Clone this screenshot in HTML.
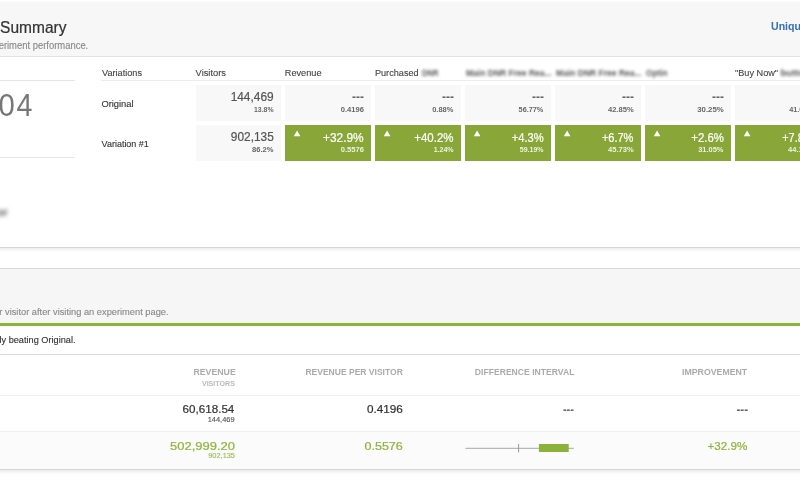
<!DOCTYPE html>
<html><head><meta charset="utf-8">
<title>Results Summary</title>
<style>
*{margin:0;padding:0;box-sizing:border-box}
html,body{width:800px;height:480px;overflow:hidden;background:#fff;font-family:"Liberation Sans",Arial,sans-serif;color:#333}
.a{position:absolute}
#h1{left:-10px;top:1px;width:820px;height:56px;background:#f7f7f7;border-top:1px solid #fbfbfb;border-bottom:1px solid #e3e3e3}
#c1b{left:-10px;top:57px;width:820px;height:191px;background:#fff;border-bottom:1px solid #d6d6d6;box-shadow:0 2px 3px rgba(0,0,0,.07)}
.hl{position:absolute;height:1px;background:#e6e6e6}
.gc{position:absolute;width:86px;height:36px;background:#f8f8f8}
.gn{position:absolute;width:86px;height:36px;background:#88a738}
#h2{left:-10px;top:268px;width:820px;height:55px;background:#f6f6f6;border-top:1px solid #d8d8d8}
#gl{left:-10px;top:323px;width:820px;height:3px;background:#8cb33c}
#c2b{left:-10px;top:326px;width:820px;height:144px;background:#fff;border-bottom:1px solid #d6d6d3;box-shadow:0 2px 4px rgba(0,0,0,.09)}
#wrap{position:absolute;left:0;top:0;width:800px;height:480px}
svg.tx{position:absolute;left:0;top:0;font-family:"Liberation Sans",Arial,sans-serif}
</style></head><body><div id="wrap">
<div class="a" id="h1"></div>
<div class="a" id="c1b"></div>
<div class="hl" style="left:-10px;top:80px;width:85px"></div>
<div class="hl" style="left:-10px;top:157px;width:85px"></div>
<div class="hl" style="left:101px;top:80px;width:700px;background:#ededed"></div>

<div class="gc" style="left:196px;top:85px;width:85px"></div>
<div class="gc" style="left:196px;top:125px;width:85px"></div>
<div class="gc" style="left:285px;top:85px"></div>
<div class="gc" style="left:375px;top:85px"></div>
<div class="gc" style="left:465px;top:85px"></div>
<div class="gc" style="left:555px;top:85px"></div>
<div class="gc" style="left:645px;top:85px"></div>
<div class="gc" style="left:735px;top:85px"></div>
<div class="gn" style="left:285px;top:125px"></div>
<div class="gn" style="left:375px;top:125px"></div>
<div class="gn" style="left:465px;top:125px"></div>
<div class="gn" style="left:555px;top:125px"></div>
<div class="gn" style="left:645px;top:125px"></div>
<div class="gn" style="left:735px;top:125px"></div>

<div class="a" id="h2"></div>
<div class="a" id="gl"></div>
<div class="a" id="c2b"></div>
<div class="hl" style="left:-10px;top:354px;width:820px;background:#dcdcdc"></div>
<div class="hl" style="left:-10px;top:395px;width:820px;background:#eeeeee"></div>
<div class="hl" style="left:-10px;top:431px;width:820px;background:#f0f0f0"></div>
<div class="a" style="left:-10px;top:432px;width:820px;height:37px;background:#fbfbfb"></div>

<svg class="tx" width="800" height="480" viewBox="0 0 800 480">
<g fill="#fff">
<polygon points="293.8,136.2 297.1,130.4 300.4,136.2"/>
<polygon points="383.8,136.2 387.1,130.4 390.4,136.2"/>
<polygon points="473.8,136.2 477.1,130.4 480.4,136.2"/>
<polygon points="563.8,136.2 567.1,130.4 570.4,136.2"/>
<polygon points="653.8,136.2 657.1,130.4 660.4,136.2"/>
<polygon points="743.8,136.2 747.1,130.4 750.4,136.2"/>
</g>
<line x1="465.4" y1="448.3" x2="573.8" y2="448.3" stroke="#a8a8a8" stroke-width="1"/>
<line x1="518.6" y1="444" x2="518.6" y2="452.4" stroke="#999" stroke-width="1"/>
<rect x="538.9" y="444" width="29.8" height="8" fill="#8bb23a"/>
<text x="0.11" y="32.60" font-size="15.6" font-weight="400" fill="#333" text-anchor="start" textLength="66.33" lengthAdjust="spacingAndGlyphs" stroke="#333" stroke-width="0.22">Summary</text>
<text x="88.24" y="48.80" font-size="10" font-weight="400" fill="#888" text-anchor="end" textLength="89.61" lengthAdjust="spacingAndGlyphs" stroke="#888" stroke-width="0.12">eriment performance.</text>
<text x="771.00" y="29.60" font-size="10.6" font-weight="700" fill="#3470b8" text-anchor="start">Unique Conversions</text>
<text x="14.81" y="115.60" font-size="32" font-weight="400" fill="#777" text-anchor="end" textLength="16.29" lengthAdjust="spacingAndGlyphs">0</text>
<text x="32.43" y="115.60" font-size="32" font-weight="400" fill="#777" text-anchor="end" textLength="15.91" lengthAdjust="spacingAndGlyphs">4</text>
<text x="8.00" y="216.00" font-size="11" font-weight="700" fill="#555" text-anchor="end" textLength="12.58" lengthAdjust="spacingAndGlyphs" style="filter:blur(1.9px)">or</text>
<text x="102.00" y="75.90" font-size="9.6" font-weight="400" fill="#444" text-anchor="start" textLength="39.99" lengthAdjust="spacingAndGlyphs" stroke="#444" stroke-width="0.12">Variations</text>
<text x="195.58" y="75.90" font-size="9.6" font-weight="400" fill="#444" text-anchor="start" textLength="30.42" lengthAdjust="spacingAndGlyphs" stroke="#444" stroke-width="0.12">Visitors</text>
<text x="284.79" y="75.90" font-size="9.6" font-weight="400" fill="#444" text-anchor="start" textLength="36.74" lengthAdjust="spacingAndGlyphs" stroke="#444" stroke-width="0.12">Revenue</text>
<text x="374.92" y="75.90" font-size="9.6" font-weight="400" fill="#444" text-anchor="start" textLength="43.75" lengthAdjust="spacingAndGlyphs" stroke="#444" stroke-width="0.12">Purchased</text>
<text x="422.00" y="75.90" font-size="9.6" font-weight="700" fill="#555" text-anchor="start" textLength="16.54" lengthAdjust="spacingAndGlyphs" style="filter:blur(1.4px)">DNR</text>
<text x="466.00" y="75.90" font-size="9.6" font-weight="700" fill="#555" text-anchor="start" textLength="85.61" lengthAdjust="spacingAndGlyphs" style="filter:blur(1.4px)">Main DNR Free Rea...</text>
<text x="556.10" y="75.90" font-size="9.6" font-weight="700" fill="#555" text-anchor="start" textLength="85.47" lengthAdjust="spacingAndGlyphs" style="filter:blur(1.4px)">Main DNR Free Rea...</text>
<text x="646.00" y="75.90" font-size="9.6" font-weight="700" fill="#555" text-anchor="start" textLength="21.45" lengthAdjust="spacingAndGlyphs" style="filter:blur(1.4px)">Optin</text>
<text x="735.00" y="75.90" font-size="9.6" font-weight="400" fill="#444" text-anchor="start" textLength="43.10" lengthAdjust="spacingAndGlyphs" stroke="#444" stroke-width="0.12">&quot;Buy Now&quot;</text>
<text x="780.47" y="75.90" font-size="9.6" font-weight="700" fill="#555" text-anchor="start" textLength="30.04" lengthAdjust="spacingAndGlyphs" style="filter:blur(1.4px)">button</text>
<text x="101.40" y="106.80" font-size="9.2" font-weight="400" fill="#333" text-anchor="start" textLength="32.22" lengthAdjust="spacingAndGlyphs" stroke="#333" stroke-width="0.12">Original</text>
<text x="101.60" y="147.00" font-size="9.2" font-weight="400" fill="#333" text-anchor="start" textLength="47.25" lengthAdjust="spacingAndGlyphs" stroke="#333" stroke-width="0.12">Variation #1</text>
<text x="273.62" y="101.20" font-size="12.6" font-weight="400" fill="#555" text-anchor="end" textLength="42.99" lengthAdjust="spacingAndGlyphs" stroke="#555" stroke-width="0.22">144,469</text>
<text x="273.54" y="111.70" font-size="6.9" font-weight="700" fill="#666" text-anchor="end" textLength="19.56" lengthAdjust="spacingAndGlyphs">13.8%</text>
<text x="273.74" y="141.20" font-size="12.6" font-weight="400" fill="#555" text-anchor="end" textLength="42.87" lengthAdjust="spacingAndGlyphs" stroke="#555" stroke-width="0.22">902,135</text>
<text x="273.48" y="151.60" font-size="6.9" font-weight="700" fill="#666" text-anchor="end" textLength="21.54" lengthAdjust="spacingAndGlyphs">86.2%</text>
<text x="363.87" y="101.20" font-size="12" font-weight="700" fill="#666" text-anchor="end" textLength="11.88" lengthAdjust="spacingAndGlyphs">---</text>
<text x="363.91" y="111.80" font-size="6.9" font-weight="700" fill="#666" text-anchor="end" textLength="23.21" lengthAdjust="spacingAndGlyphs">0.4196</text>
<text x="363.68" y="141.50" font-size="12" font-weight="400" fill="#fff" text-anchor="end" textLength="40.64" lengthAdjust="spacingAndGlyphs" stroke="#fff" stroke-width="0.22">+32.9%</text>
<text x="363.91" y="152.30" font-size="6.9" font-weight="700" fill="#edf3e2" text-anchor="end" textLength="23.21" lengthAdjust="spacingAndGlyphs">0.5576</text>
<text x="453.87" y="101.20" font-size="12" font-weight="700" fill="#666" text-anchor="end" textLength="11.88" lengthAdjust="spacingAndGlyphs">---</text>
<text x="453.32" y="111.80" font-size="6.9" font-weight="700" fill="#666" text-anchor="end" textLength="21.13" lengthAdjust="spacingAndGlyphs">0.88%</text>
<text x="453.45" y="141.50" font-size="12" font-weight="400" fill="#fff" text-anchor="end" textLength="39.16" lengthAdjust="spacingAndGlyphs" stroke="#fff" stroke-width="0.22">+40.2%</text>
<text x="453.64" y="152.30" font-size="6.9" font-weight="700" fill="#edf3e2" text-anchor="end" textLength="19.94" lengthAdjust="spacingAndGlyphs">1.24%</text>
<text x="543.87" y="101.20" font-size="12" font-weight="700" fill="#666" text-anchor="end" textLength="11.88" lengthAdjust="spacingAndGlyphs">---</text>
<text x="543.34" y="111.80" font-size="6.9" font-weight="700" fill="#666" text-anchor="end" textLength="24.76" lengthAdjust="spacingAndGlyphs">56.77%</text>
<text x="543.77" y="141.50" font-size="12" font-weight="400" fill="#fff" text-anchor="end" textLength="32.04" lengthAdjust="spacingAndGlyphs" stroke="#fff" stroke-width="0.22">+4.3%</text>
<text x="543.61" y="152.30" font-size="6.9" font-weight="700" fill="#edf3e2" text-anchor="end" textLength="23.86" lengthAdjust="spacingAndGlyphs">59.19%</text>
<text x="633.87" y="101.20" font-size="12" font-weight="700" fill="#666" text-anchor="end" textLength="11.88" lengthAdjust="spacingAndGlyphs">---</text>
<text x="633.68" y="111.80" font-size="6.9" font-weight="700" fill="#666" text-anchor="end" textLength="25.77" lengthAdjust="spacingAndGlyphs">42.85%</text>
<text x="633.42" y="141.50" font-size="12" font-weight="400" fill="#fff" text-anchor="end" textLength="31.53" lengthAdjust="spacingAndGlyphs" stroke="#fff" stroke-width="0.22">+6.7%</text>
<text x="633.65" y="152.30" font-size="6.9" font-weight="700" fill="#edf3e2" text-anchor="end" textLength="25.66" lengthAdjust="spacingAndGlyphs">45.73%</text>
<text x="723.87" y="101.20" font-size="12" font-weight="700" fill="#666" text-anchor="end" textLength="11.88" lengthAdjust="spacingAndGlyphs">---</text>
<text x="723.74" y="111.80" font-size="6.9" font-weight="700" fill="#666" text-anchor="end" textLength="26.53" lengthAdjust="spacingAndGlyphs">30.25%</text>
<text x="723.87" y="141.50" font-size="12" font-weight="400" fill="#fff" text-anchor="end" textLength="32.51" lengthAdjust="spacingAndGlyphs" stroke="#fff" stroke-width="0.22">+2.6%</text>
<text x="723.33" y="152.30" font-size="6.9" font-weight="700" fill="#edf3e2" text-anchor="end" textLength="25.08" lengthAdjust="spacingAndGlyphs">31.05%</text>
<text x="813.87" y="101.20" font-size="12" font-weight="700" fill="#666" text-anchor="end" textLength="11.88" lengthAdjust="spacingAndGlyphs">---</text>
<text x="813.84" y="111.80" font-size="6.9" font-weight="700" fill="#666" text-anchor="end" textLength="24.67" lengthAdjust="spacingAndGlyphs">41.06%</text>
<text x="813.25" y="141.50" font-size="12" font-weight="400" fill="#fff" text-anchor="end" textLength="30.93" lengthAdjust="spacingAndGlyphs" stroke="#fff" stroke-width="0.22">+7.8%</text>
<text x="813.65" y="152.30" font-size="6.9" font-weight="700" fill="#edf3e2" text-anchor="end" textLength="25.66" lengthAdjust="spacingAndGlyphs">44.17%</text>
<text x="168.54" y="314.90" font-size="9.4" font-weight="400" fill="#888" text-anchor="end" textLength="169.19" lengthAdjust="spacingAndGlyphs" stroke="#888" stroke-width="0.12">r visitor after visiting an experiment page.</text>
<text x="75.50" y="342.80" font-size="9.4" font-weight="400" fill="#333" text-anchor="end" textLength="76.03" lengthAdjust="spacingAndGlyphs" stroke="#333" stroke-width="0.12">ly beating Original.</text>
<text x="235.77" y="375.00" font-size="8.8" font-weight="700" fill="#aaa" text-anchor="end" textLength="42.35" lengthAdjust="spacingAndGlyphs">REVENUE</text>
<text x="235.00" y="386.00" font-size="7" font-weight="700" fill="#bbb" text-anchor="end" textLength="33.10" lengthAdjust="spacingAndGlyphs">VISITORS</text>
<text x="402.82" y="375.00" font-size="8.8" font-weight="700" fill="#aaa" text-anchor="end" textLength="97.41" lengthAdjust="spacingAndGlyphs">REVENUE PER VISITOR</text>
<text x="574.40" y="375.00" font-size="8.8" font-weight="700" fill="#aaa" text-anchor="end" textLength="99.58" lengthAdjust="spacingAndGlyphs">DIFFERENCE INTERVAL</text>
<text x="747.24" y="375.00" font-size="8.8" font-weight="700" fill="#aaa" text-anchor="end" textLength="65.23" lengthAdjust="spacingAndGlyphs">IMPROVEMENT</text>
<text x="234.33" y="412.80" font-size="11.6" font-weight="400" fill="#333" text-anchor="end" textLength="51.75" lengthAdjust="spacingAndGlyphs" stroke="#333" stroke-width="0.22">60,618.54</text>
<text x="234.54" y="421.80" font-size="7" font-weight="400" fill="#555" text-anchor="end" textLength="26.86" lengthAdjust="spacingAndGlyphs" stroke="#555" stroke-width="0.12">144,469</text>
<text x="402.76" y="412.80" font-size="11.6" font-weight="400" fill="#333" text-anchor="end" textLength="35.82" lengthAdjust="spacingAndGlyphs" stroke="#333" stroke-width="0.22">0.4196</text>
<text x="574.00" y="413.70" font-size="12" font-weight="700" fill="#666" text-anchor="end" textLength="11.05" lengthAdjust="spacingAndGlyphs">---</text>
<text x="748.00" y="413.70" font-size="12" font-weight="700" fill="#666" text-anchor="end" textLength="11.56" lengthAdjust="spacingAndGlyphs">---</text>
<text x="235.00" y="449.50" font-size="11.6" font-weight="400" fill="#8db63c" text-anchor="end" textLength="64.90" lengthAdjust="spacingAndGlyphs" stroke="#8db63c" stroke-width="0.22">502,999.20</text>
<text x="235.00" y="458.20" font-size="7" font-weight="400" fill="#98bb55" text-anchor="end" textLength="26.77" lengthAdjust="spacingAndGlyphs" stroke="#98bb55" stroke-width="0.12">902,135</text>
<text x="402.86" y="449.50" font-size="11.6" font-weight="400" fill="#8db63c" text-anchor="end" textLength="38.45" lengthAdjust="spacingAndGlyphs" stroke="#8db63c" stroke-width="0.22">0.5576</text>
<text x="747.33" y="449.50" font-size="11.6" font-weight="400" fill="#8db63c" text-anchor="end" textLength="39.90" lengthAdjust="spacingAndGlyphs" stroke="#8db63c" stroke-width="0.22">+32.9%</text>
</svg>
</div></body></html>
